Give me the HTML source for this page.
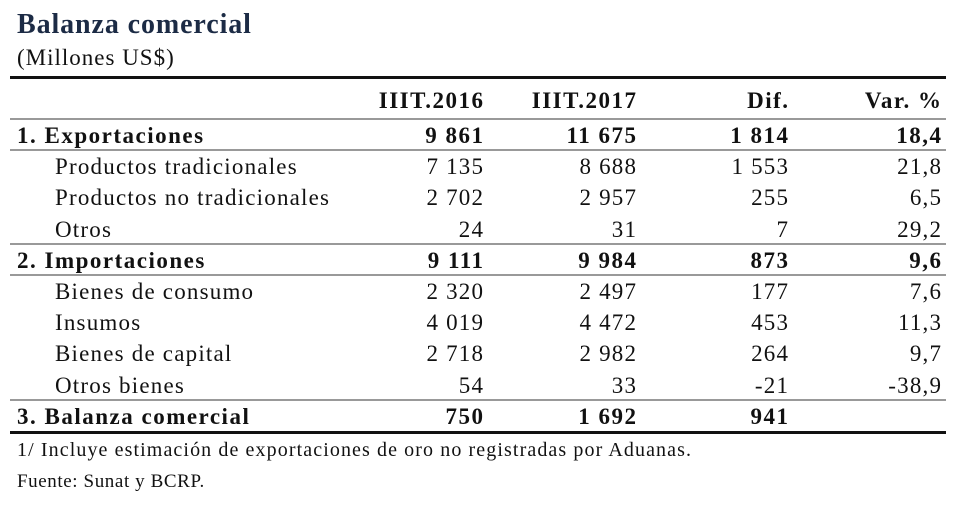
<!DOCTYPE html>
<html><head><meta charset="utf-8"><style>
body{margin:0;width:980px;height:513px;background:#fff;position:relative;overflow:hidden;font-family:"Liberation Serif",serif;color:#111}
.t{position:absolute;white-space:nowrap;line-height:1;letter-spacing:1.2px}
.r{position:absolute;white-space:nowrap;line-height:1;text-align:right;width:200px;letter-spacing:1.2px}
.b{font-weight:bold;letter-spacing:1.5px}
.ln{position:absolute;left:10px;width:936px;background:#999;height:2px}
.tk{background:#111;height:3px}
</style></head><body>
<div class="t b" style="left:17px;top:11px;font-size:28px;color:#1c2b45;letter-spacing:0.9px">Balanza comercial</div>
<div class="t" style="left:17px;top:46px;font-size:23px;letter-spacing:1px">(Millones US$)</div>
<div class="ln tk" style="top:76px"></div>
<div class="ln" style="top:118px"></div>
<div class="ln" style="top:149px"></div>
<div class="ln" style="top:243px"></div>
<div class="ln" style="top:274px"></div>
<div class="ln" style="top:399px"></div>
<div class="ln tk" style="top:431px"></div>
<div id="tbl"></div>
<div class="t" style="left:17px;top:440px;font-size:20px;letter-spacing:1.1px">1/ Incluye estimación de exportaciones de oro no registradas por Aduanas.</div>
<div class="t" style="left:17px;top:472px;font-size:19px;letter-spacing:0.6px">Fuente: Sunat y BCRP.</div>
<script>
const headers=["IIIT.2016","IIIT.2017","Dif.","Var. %"];
const labels=["1. Exportaciones","Productos tradicionales","Productos no tradicionales","Otros","2. Importaciones","Bienes de consumo","Insumos","Bienes de capital","Otros bienes","3. Balanza comercial"];
const bold=[1,0,0,0,1,0,0,0,0,1];
const v2016=["9 861","7 135","2 702","24","9 111","2 320","4 019","2 718","54","750"];
const v2017=["11 675","8 688","2 957","31","9 984","2 497","4 472","2 982","33","1 692"];
const vdif=["1 814","1 553","255","7","873","177","453","264","-21","941"];
const vvar=["18,4","21,8","6,5","29,2","9,6","7,6","11,3","9,7","-38,9",""];
const rights=[483,636,788,941];
const tbl=document.getElementById('tbl');
function add(cls,txt,left,top,name){const d=document.createElement('div');d.className=cls;d.textContent=txt;d.style.left=left+'px';d.style.top=top+'px';d.style.fontSize='23px';


tbl.appendChild(d);}
headers.forEach((h,i)=>add('r b',h,rights[i]-200+1.5,89,'column-header'));
labels.forEach((l,i)=>{const y=124+i*31.2;const c=bold[i]?' b':'';
add('t'+c,l,bold[i]?17:55,y,'row-label');
[v2016,v2017,vdif,vvar].forEach((a,j)=>add('r'+c,a[i],rights[j]-200+(bold[i]?1.5:1.2),y,'cell-value'));});
</script>
</body></html>
